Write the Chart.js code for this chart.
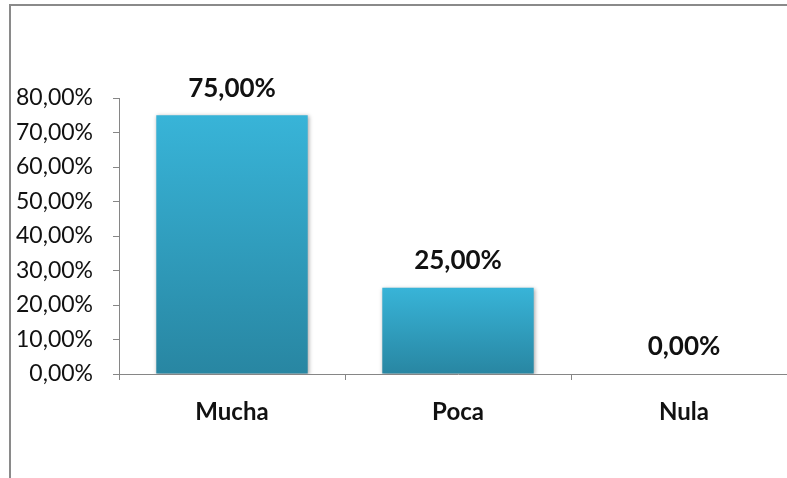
<!DOCTYPE html>
<html lang="es">
<head>
    <meta charset="UTF-8">
    <title>Gráfica de barras</title>
    <style>
        html, body {
            margin: 0;
            padding: 0;
            background: #ffffff;
            overflow: hidden;
        }
        #wrap {
            position: absolute;
            left: 0;
            top: 0;
        }
    </style>
</head>
<body>
    <div id="wrap">
        <canvas id="grafica" width="800" height="478"></canvas>
    </div>
    <script src="https://cdn.jsdelivr.net/npm/chart.js"></script>
    <script>
        // Categorías y valores (proporciones)
        const categorias = ['Mucha', 'Poca', 'Nula'];
        const valores = [0.75, 0.25, 0];
        const ticksY = [0, 0.1, 0.2, 0.3, 0.4, 0.5, 0.6, 0.7, 0.8];

        const fuente = 'Lato, "Open Sans", sans-serif';

        function formatoPct(v) {
            return (v * 100).toFixed(2).replace('.', ',') + '%';
        }

        // Marco gris del área del gráfico (arriba e izquierda)
        const marco = {
            id: 'marco',
            beforeDraw(chart) {
                const ctx = chart.ctx;
                ctx.save();
                ctx.strokeStyle = '#8a8a8a';
                ctx.lineWidth = 2;
                ctx.beginPath();
                ctx.moveTo(10, chart.height);
                ctx.lineTo(10, 5);
                ctx.lineTo(chart.width, 5);
                ctx.stroke();
                ctx.restore();
            }
        };

        // Sombra suave bajo las barras
        const sombra = {
            id: 'sombra',
            beforeDatasetsDraw(chart) {
                const ctx = chart.ctx;
                ctx.save();
                ctx.shadowColor = 'rgba(0,0,0,0.35)';
                ctx.shadowBlur = 4;
                ctx.shadowOffsetX = 1;
                ctx.shadowOffsetY = 1;
            },
            afterDatasetsDraw(chart) {
                chart.ctx.restore();
            }
        };

        // Etiquetas de valor encima de cada barra
        const etiquetas = {
            id: 'etiquetas',
            afterDraw(chart) {
                const ctx = chart.ctx;
                const meta = chart.getDatasetMeta(0);
                ctx.save();
                ctx.font = 'bold 26px ' + fuente;
                ctx.fillStyle = '#111111';
                ctx.textAlign = 'center';
                ctx.textBaseline = 'middle';
                meta.data.forEach((barra, i) => {
                    ctx.fillText(formatoPct(valores[i]), barra.x, barra.y - 27);
                });
                ctx.restore();
            }
        };

        const ctx = document.getElementById('grafica').getContext('2d');

        new Chart(ctx, {
            type: 'bar',
            data: {
                labels: categorias,
                datasets: [{
                    data: valores,
                    barPercentage: 0.67,
                    categoryPercentage: 1,
                    backgroundColor(context) {
                        const chart = context.chart;
                        const area = chart.chartArea;
                        if (!area) return '#33a6c8';
                        const y = chart.scales.y;
                        const top = y.getPixelForValue(context.raw || 0);
                        const bottom = y.getPixelForValue(0);
                        if (bottom - top < 1) return '#33a6c8';
                        const g = chart.ctx.createLinearGradient(0, top, 0, bottom);
                        g.addColorStop(0, '#38b4d8');
                        g.addColorStop(1, '#2886a2');
                        return g;
                    }
                }]
            },
            options: {
                responsive: false,
                animation: false,
                layout: {
                    padding: { left: 0, right: 3, top: 98, bottom: 0 }
                },
                plugins: {
                    legend: { display: false },
                    tooltip: { enabled: false }
                },
                scales: {
                    y: {
                        min: 0,
                        max: 0.8,
                        afterFit(scale) { scale.width = 119; },
                        afterBuildTicks(scale) {
                            scale.ticks = ticksY.map(v => ({ value: v }));
                        },
                        ticks: {
                            callback: v => formatoPct(v),
                            color: '#111111',
                            padding: 20,
                            font: { family: fuente, size: 23 }
                        },
                        grid: {
                            drawOnChartArea: false,
                            tickLength: 6,
                            color: '#868686'
                        },
                        border: { color: '#868686', width: 1 }
                    },
                    x: {
                        afterFit(scale) { scale.height = 104; },
                        ticks: {
                            color: '#111111',
                            padding: 18,
                            font: { family: fuente, size: 24, weight: 'bold' }
                        },
                        grid: {
                            drawOnChartArea: false,
                            tickLength: 6,
                            color: '#868686'
                        },
                        border: { color: '#868686', width: 1 }
                    }
                }
            },
            plugins: [marco, sombra, etiquetas]
        });
    </script>
</body>
</html>
